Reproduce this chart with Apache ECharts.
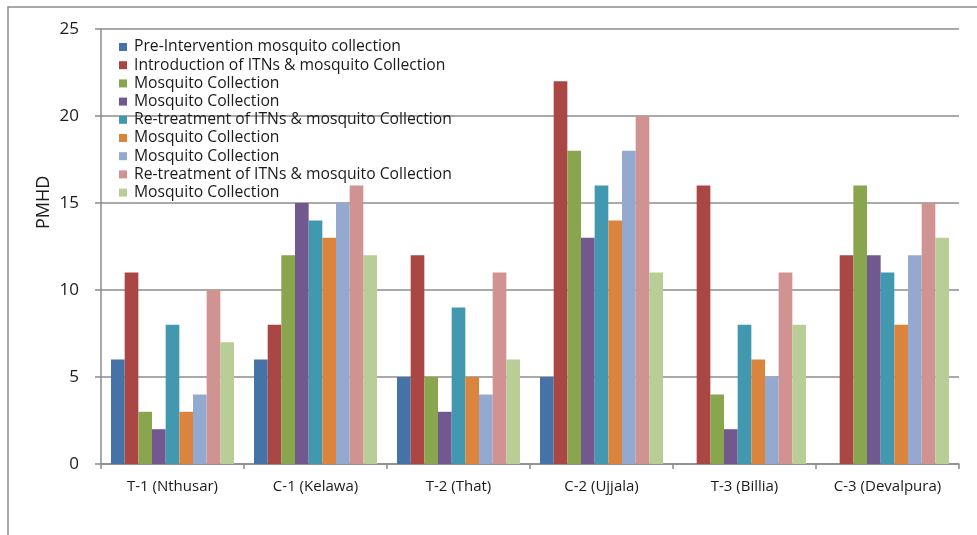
<!DOCTYPE html>
<html>
<head>
<meta charset="utf-8">
<script src="https://cdn.jsdelivr.net/npm/echarts@6/dist/echarts.min.js"></script>
<style>
html,body{margin:0;padding:0;background:#fff;}
#chart{width:977px;height:535px;}
</style>
</head>
<body>
<div id="chart"></div>
<script>
var categories = ['T-1 (Nthusar)', 'C-1 (Kelawa)', 'T-2 (That)', 'C-2 (Ujjala)', 'T-3 (Billia)', 'C-3 (Devalpura)'];
var seriesLabels = [
  'Pre-Intervention mosquito collection',
  'Introduction of ITNs & mosquito Collection',
  'Mosquito Collection',
  'Mosquito Collection',
  'Re-treatment of ITNs & mosquito Collection',
  'Mosquito Collection',
  'Mosquito Collection',
  'Re-treatment of ITNs & mosquito Collection',
  'Mosquito Collection'
];
var s1 = [6, 6, 5, 5, null, null];
var s2 = [11, 8, 12, 22, 16, 12];
var s3 = [3, 12, 5, 18, 4, 16];
var s4 = [2, 15, 3, 13, 2, 12];
var s5 = [8, 14, 9, 16, 8, 11];
var s6 = [3, 13, 5, 14, 6, 8];
var s7 = [4, 15, 4, 18, 5, 12];
var s8 = [10, 16, 11, 20, 11, 15];
var s9 = [7, 12, 6, 11, 8, 13];
var yTicks = [0, 5, 10, 15, 20, 25];

var allData = [s1, s2, s3, s4, s5, s6, s7, s8, s9];
var colors = ['#4572A7', '#AA4643', '#89A54E', '#71588F', '#4198AF', '#DB843D', '#93A9CF', '#D19392', '#B9CD96'];
var FONT = '"Open Sans", Lato, sans-serif';

var chart = echarts.init(document.getElementById('chart'), null, {renderer: 'canvas'});
var series = allData.map(function (d, i) {
  return {
    name: 's' + i,
    type: 'bar',
    data: d,
    barGap: '0%',
    barCategoryGap: '14%',
    itemStyle: {color: colors[i]},
    emphasis: {disabled: true}
  };
});
var option = {
  animation: false,
  color: colors,
  graphic: [
    {type: 'rect', shape: {x: 8, y: 7, width: 1200, height: 1200}, style: {fill: 'none', stroke: '#8c8c8c', lineWidth: 1.5}, z: 0, silent: true},
    {type: 'text', x: 35, y: 229, rotation: Math.PI / 2, style: {text: 'PMHD', font: '18px ' + FONT, fill: '#1a1a1a'}, z: 10}
  ],
  grid: {left: 101, right: 18, top: 29, bottom: 71, containLabel: false},
  legend: {
    orient: 'vertical',
    left: 114,
    top: 34,
    itemWidth: 8,
    itemHeight: 8,
    itemGap: 2.2,
    icon: 'rect',
    data: series.map(function (s) { return s.name; }),
    formatter: function (name) { return seriesLabels[parseInt(name.slice(1), 10)]; },
    textStyle: {fontSize: 15.7, lineHeight: 16, color: '#1a1a1a', fontFamily: FONT, padding: [0, 0, 0, 2]},
    selectedMode: false
  },
  xAxis: {
    type: 'category',
    data: categories,
    axisLine: {lineStyle: {color: '#8c8c8c', width: 1.5}},
    axisTick: {show: true, length: 5, lineStyle: {color: '#8c8c8c', width: 1.5}},
    axisLabel: {interval: 0, fontSize: 15, color: '#1a1a1a', margin: 15, fontFamily: FONT},
    splitLine: {show: false}
  },
  yAxis: {
    type: 'value',
    min: yTicks[0],
    max: yTicks[yTicks.length - 1],
    interval: 5,
    axisLine: {show: true, lineStyle: {color: '#8c8c8c', width: 1.5}},
    axisTick: {show: true, length: 6, lineStyle: {color: '#8c8c8c', width: 1.5}},
    axisLabel: {fontSize: 17, color: '#1a1a1a', margin: 22, fontFamily: FONT},
    splitLine: {show: true, lineStyle: {color: '#8c8c8c', width: 1.5}}
  },
  series: series
};
chart.setOption(option);
</script>
</body>
</html>
